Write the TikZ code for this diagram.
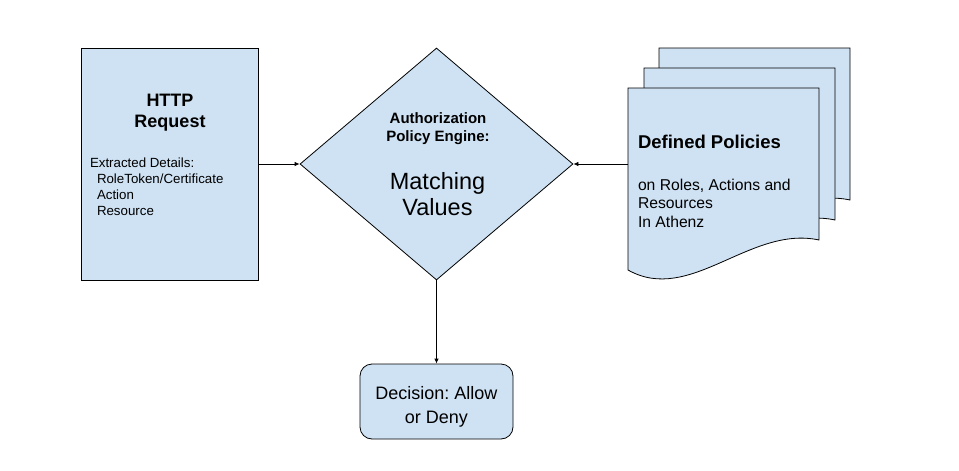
\documentclass[tikz,border=0pt]{standalone}
\usepackage{fontspec}
\setmainfont{Liberation Sans}
\frenchspacing
\usetikzlibrary{arrows.meta,shapes.geometric}
\definecolor{boxfill}{HTML}{CFE2F3}
\newcommand{\fs}[2]{\fontsize{#1}{#2}\selectfont}

\tikzset{
  shape box/.style={draw=black,fill=boxfill,line width=0.8pt},
  txt/.style={inner sep=0pt,outer sep=0pt},
  link/.style={draw=black,line width=0.8pt,-{Latex[length=5pt,width=4.5pt]}},
}

\begin{document}
\begin{tikzpicture}[x=1pt,y=-1pt]
\useasboundingbox (0,0) rectangle (959,471);

% request box
\node[shape box,minimum width=177pt,minimum height=232pt,inner sep=0pt] (request) at (169.5,164) {};
\node[txt,anchor=north,align=center,font=\fs{18}{21}\bfseries] (reqtitle) at (170,94.5) {HTTP\\Request};
\node[txt,anchor=north west,align=left,font=\fs{13.3}{15.8}] (reqdetails) at (90,158.2)
  {Extracted Details:\\\hspace*{7pt}RoleToken/Certificate\\\hspace*{7pt}Action\\\hspace*{7pt}Resource};

% policy engine
\node[shape box,diamond,aspect=1,minimum width=273pt,minimum height=232pt,inner sep=0pt] (engine) at (436.5,164) {};
\node[txt,anchor=north,align=center,font=\fs{15}{18}\bfseries] (enginetitle) at (438,112.5) {Authorization\\Policy Engine:};
\node[txt,anchor=north,align=center,font=\fs{23.5}{25.7}] (matching) at (437.5,172.8) {Matching\\Values};

% stacked policy documents
\foreach \dx/\dy in {31/-40,16/-20,0/0}
  \draw[shape box,shift={(\dx,\dy)}] (628,270) -- (628,88) -- (819,88) -- (819,240)
    .. controls (750,225) and (690,305) .. cycle;
\coordinate (policies) at (628,164);
\node[txt,anchor=north west,font=\fs{18.5}{21}\bfseries] (poltitle) at (638,135) {Defined Policies};
\node[txt,anchor=north west,align=left,font=\fs{15.7}{18.5}] (poldetails) at (638,178.7)
  {on Roles, Actions and\\Resources\\In Athenz};

% decision
\node[shape box,rounded corners=12pt,minimum width=153pt,minimum height=75pt] (decision) at (436.5,401.5) {};
\node[txt,anchor=north,align=center,font=\fs{18}{24.5}] (verdict) at (436.5,386.3) {Decision: Allow\\or Deny};

\path[link] (request) -- (engine.west);
\path[link] (policies) -- (engine.east);
\path[link] (engine.south) -- (decision.north);

\end{tikzpicture}
\end{document}
